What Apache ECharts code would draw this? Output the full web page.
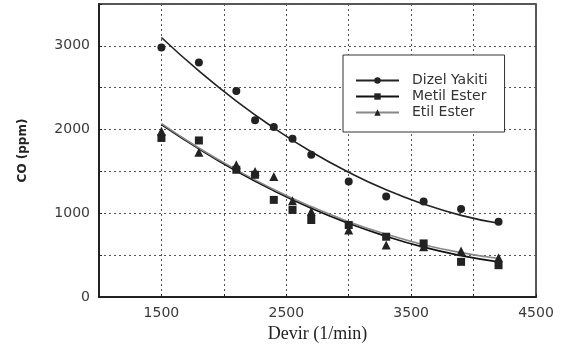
<!DOCTYPE html>
<html>
<head>
<meta charset="utf-8">
<script src="https://cdn.jsdelivr.net/npm/echarts@6/dist/echarts.min.js"></script>
<style>
html,body{margin:0;padding:0;background:#fff;}
#c{width:563px;height:352px;}
</style>
</head>
<body>
<div id="c"></div>
<script>
const rpm = [1500, 1800, 2100, 2250, 2400, 2550, 2700, 3000, 3300, 3600, 3900, 4200];
const dizelY = [2980, 2800, 2460, 2110, 2030, 1890, 1700, 1380, 1200, 1140, 1050, 900];
const metilY = [1900, 1870, 1520, 1460, 1160, 1040, 920, 860, 720, 640, 420, 380];
const etilY  = [1980, 1730, 1580, 1500, 1440, 1150, 1020, 800, 620, 600, 550, 470];

// Trend curves
const fitX = [1500, 1800, 2100, 2400, 2700, 3000, 3300, 3600, 3900, 4200];
const dizelFit = [3100, 2700, 2340, 2020, 1735, 1490, 1280, 1110, 975, 880];
const metilFit = [2060, 1770, 1505, 1270, 1060, 880, 725, 595, 495, 420];
const etilFit  = [2070, 1780, 1520, 1285, 1080, 900, 750, 625, 530, 460];

const names = ['Dizel Yakiti', 'Metil Ester', 'Etil Ester'];
const xLabels = [1500, 2500, 3500, 4500];
const yLabels = [0, 1000, 2000, 3000];

const zip = (xs, ys) => xs.map((x, i) => [x, ys[i]]);

const chart = echarts.init(document.getElementById('c'), null, {renderer: 'canvas'});
const axisFont = {fontFamily: 'DejaVu Sans', fontSize: 14, color: '#3a3a3a'};
const gridLine = {show: true, lineStyle: {color: '#555', width: 1, type: [2, 3]}};

chart.setOption({
  animation: false,
  backgroundColor: '#fff',
  grid: {left: 99, top: 4, width: 437, height: 293, show: true, borderColor: '#222', borderWidth: 1.5, containLabel: false},
  legend: {
    orient: 'vertical', left: 343, top: 55,
    data: names,
    backgroundColor: '#fff', borderColor: '#333', borderWidth: 1,
    padding: [18, 17, 12, 12],
    itemWidth: 43, itemHeight: 8, itemGap: 1,
    textStyle: {fontFamily: 'DejaVu Sans', fontSize: 14, color: '#333', lineHeight: 15, padding: [0, 0, 0, 8]}
  },
  xAxis: {
    type: 'value', min: 1000, max: 4500, interval: 500,
    name: 'Devir (1/min)', nameLocation: 'middle', nameGap: 27,
    nameTextStyle: {fontFamily: 'Liberation Serif', fontSize: 18, color: '#222'},
    axisLine: {show: true, lineStyle: {color: '#222', width: 2}},
    axisTick: {show: true, inside: true, length: 3, lineStyle: {color: '#222'}},
    axisLabel: Object.assign({margin: 9, formatter: v => xLabels.includes(v) ? String(v) : ''}, axisFont),
    splitLine: gridLine
  },
  yAxis: {
    type: 'value', min: 0, max: 3500, interval: 500,
    name: 'CO (ppm)', nameLocation: 'middle', nameGap: 70, nameRotate: 90,
    nameTextStyle: {fontFamily: 'DejaVu Sans', fontSize: 12, fontWeight: 'bold', color: '#222'},
    axisLine: {show: true, lineStyle: {color: '#222', width: 2}},
    axisTick: {show: true, inside: true, length: 3, lineStyle: {color: '#222'}},
    axisLabel: Object.assign({margin: 9, formatter: v => yLabels.includes(v) ? String(v) : ''}, axisFont),
    splitLine: gridLine
  },
  series: [
    {name: names[0], type: 'line', smooth: true, showSymbol: false, symbol: 'circle', data: zip(fitX, dizelFit),
     lineStyle: {color: '#222', width: 1.6}, itemStyle: {color: '#222'}, z: 3},
    {name: names[1], type: 'line', smooth: true, showSymbol: false, symbol: 'rect', data: zip(fitX, metilFit),
     lineStyle: {color: '#111', width: 1.8}, itemStyle: {color: '#222'}, z: 3},
    {name: names[2], type: 'line', smooth: true, showSymbol: false, symbol: 'triangle', data: zip(fitX, etilFit),
     lineStyle: {color: '#888', width: 1.6}, itemStyle: {color: '#222'}, z: 3},
    {name: 'dz', type: 'scatter', symbol: 'circle', symbolSize: 8, data: zip(rpm, dizelY), itemStyle: {color: '#222', opacity: 1}, z: 4},
    {name: 'mt', type: 'scatter', symbol: 'rect', symbolSize: 8, data: zip(rpm, metilY), itemStyle: {color: '#222', opacity: 1}, z: 4},
    {name: 'et', type: 'scatter', symbol: 'triangle', symbolSize: 9, data: zip(rpm, etilY), itemStyle: {color: '#222', opacity: 1}, z: 4}
  ]
});
</script>
</body>
</html>
